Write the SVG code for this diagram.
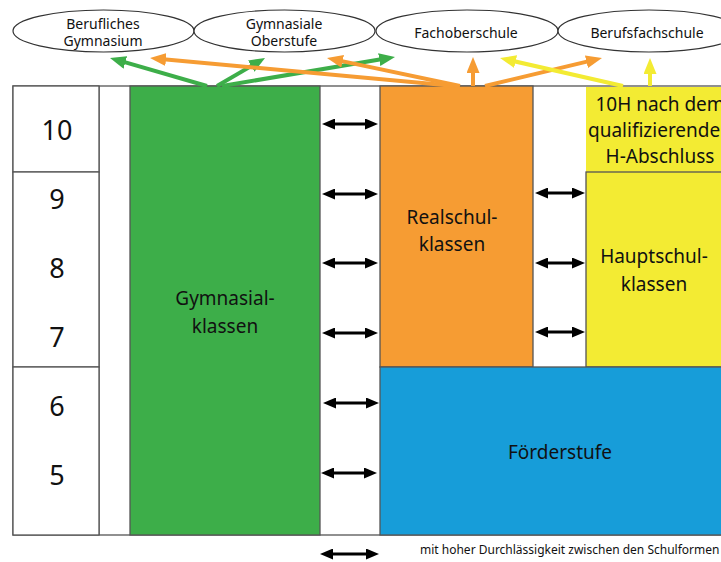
<svg xmlns="http://www.w3.org/2000/svg" width="721" height="562" viewBox="0 0 721 562">
<defs>
<style>
.t{font-family:"Noto Sans","Open Sans",sans-serif;fill:#111;text-anchor:middle}
.big{font-size:19px}
.num{font-size:27px}
.sm{font-size:14px}
.box{stroke:#555;stroke-width:1.3}
.ell{fill:#fff;stroke:#333;stroke-width:1.2}
.dbl{stroke:#000;stroke-width:3;fill:none;marker-start:url(#hb);marker-end:url(#hb)}
.g{stroke:#3DAE49;stroke-width:4;fill:none;marker-end:url(#hg)}
.o{stroke:#F69C33;stroke-width:4;fill:none;marker-end:url(#ho)}
.y{stroke:#F3EB33;stroke-width:4;fill:none;marker-end:url(#hy)}
</style>
<marker id="hb" markerUnits="userSpaceOnUse" markerWidth="13" markerHeight="11" viewBox="0 0 13 11" refX="7" refY="5.5" orient="auto-start-reverse"><path d="M0,0 L13,5.5 L0,11 z" fill="#000"/></marker>
<marker id="hg" markerUnits="userSpaceOnUse" markerWidth="16" markerHeight="13" viewBox="0 0 16 13" refX="8" refY="6.5" orient="auto"><path d="M0,0 L16,6.5 L0,13 z" fill="#3DAE49"/></marker>
<marker id="ho" markerUnits="userSpaceOnUse" markerWidth="16" markerHeight="13" viewBox="0 0 16 13" refX="8" refY="6.5" orient="auto"><path d="M0,0 L16,6.5 L0,13 z" fill="#F69C33"/></marker>
<marker id="hy" markerUnits="userSpaceOnUse" markerWidth="16" markerHeight="13" viewBox="0 0 16 13" refX="8" refY="6.5" orient="auto"><path d="M0,0 L16,6.5 L0,13 z" fill="#F3EB33"/></marker>
</defs>
<rect width="721" height="562" fill="#fff"/>

<g id="frame">
<rect x="13" y="86" width="720" height="449" fill="#fff" class="box"/>
<line x1="99" y1="86" x2="99" y2="535" class="box"/>
</g>

<g id="grades">
<rect x="13" y="86" width="86" height="86" fill="#fff" class="box"/>
<rect x="13" y="172" width="86" height="195" fill="#fff" class="box"/>
<rect x="13" y="367" width="86" height="168" fill="#fff" class="box"/>
<text class="t num" x="57" y="140">10</text>
<text class="t num" x="57" y="209">9</text>
<text class="t num" x="57" y="278">8</text>
<text class="t num" x="57" y="347">7</text>
<text class="t num" x="57" y="416">6</text>
<text class="t num" x="57" y="485">5</text>
</g>

<g id="gymnasium">
<rect x="130" y="86" width="190" height="449" fill="#3DAE49" class="box"/>
<text class="t big" x="225" y="305">Gymnasial-</text>
<text class="t big" x="225" y="333">klassen</text>
</g>

<g id="realschule">
<rect x="380" y="86" width="153" height="281" fill="#F69C33" class="box"/>
<text class="t big" x="452" y="224">Realschul-</text>
<text class="t big" x="452" y="251">klassen</text>
</g>

<g id="zehnH">
<rect x="586" y="87" width="140" height="85" fill="#F3EB33"/>
<text class="t big" x="660" y="111">10H nach dem</text>
<text class="t big" x="660" y="137">qualifizierenden</text>
<text class="t big" x="660" y="163">H-Abschluss</text>
</g>

<g id="hauptschule">
<rect x="586" y="172" width="140" height="195" fill="#F3EB33" class="box"/>
<text class="t big" x="654" y="263">Hauptschul-</text>
<text class="t big" x="654" y="291">klassen</text>
</g>

<g id="foerderstufe">
<rect x="380" y="367" width="346" height="168" fill="#179DD9" class="box"/>
<text class="t big" x="560" y="459">Förderstufe</text>
</g>

<g id="berufliches-gymnasium">
<ellipse cx="103.5" cy="31" rx="90.5" ry="21" class="ell"/>
<text class="t sm" x="103" y="29">Berufliches</text>
<text class="t sm" x="103" y="46">Gymnasium</text>
</g>
<g id="gymnasiale-oberstufe">
<ellipse cx="284.5" cy="31" rx="90.5" ry="21" class="ell"/>
<text class="t sm" x="284" y="29">Gymnasiale</text>
<text class="t sm" x="284" y="46">Oberstufe</text>
</g>
<g id="fachoberschule">
<ellipse cx="467" cy="31" rx="91" ry="21" class="ell"/>
<text class="t sm" x="466" y="38">Fachoberschule</text>
</g>
<g id="berufsfachschule">
<ellipse cx="649" cy="31" rx="91" ry="21" class="ell"/>
<text class="t sm" x="647" y="38">Berufsfachschule</text>
</g>

<g id="connectors">
<line x1="207" y1="86" x2="117.7" y2="60.2" class="g"/>
<line x1="217" y1="86" x2="258.1" y2="62" class="g"/>
<line x1="222" y1="86" x2="387.1" y2="58.3" class="g"/>
<line x1="455" y1="86" x2="158" y2="58.7" class="o"/>
<line x1="460" y1="86" x2="334.8" y2="59.6" class="o"/>
<line x1="473" y1="86" x2="473" y2="65" class="o"/>
<line x1="485" y1="86" x2="594.2" y2="59.9" class="o"/>
<line x1="623" y1="86" x2="507.8" y2="59.8" class="y"/>
<line x1="650" y1="86" x2="650" y2="66" class="y"/>

<line x1="328" y1="124" x2="372" y2="124" class="dbl"/>
<line x1="328" y1="194" x2="372" y2="194" class="dbl"/>
<line x1="328" y1="263" x2="372" y2="263" class="dbl"/>
<line x1="328" y1="333" x2="372" y2="333" class="dbl"/>
<line x1="329" y1="403" x2="373" y2="403" class="dbl"/>
<line x1="327" y1="473" x2="371" y2="473" class="dbl"/>
<line x1="541" y1="193" x2="579" y2="193" class="dbl"/>
<line x1="541" y1="263" x2="579" y2="263" class="dbl"/>
<line x1="541" y1="332" x2="579" y2="332" class="dbl"/>
<line x1="326" y1="554" x2="373" y2="554" class="dbl"/>
</g>

<g id="legend">
<text class="t" x="420" y="554" style="text-anchor:start;font-size:12px">mit hoher Durchlässigkeit zwischen den Schulformen</text>
</g>
</svg>
